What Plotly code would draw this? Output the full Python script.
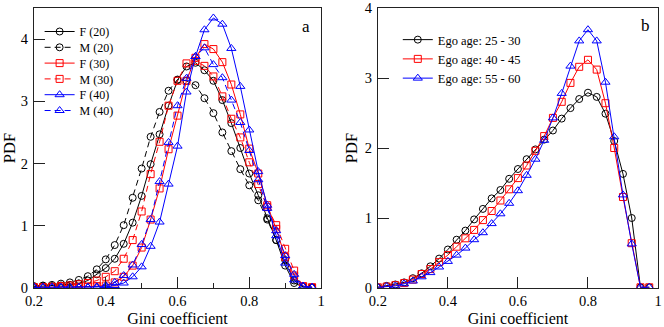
import plotly.graph_objects as go

gini = [0.2, 0.225, 0.25, 0.275, 0.3, 0.325, 0.35, 0.375, 0.4, 0.425, 0.45, 0.475,
        0.5, 0.525, 0.55, 0.575, 0.6, 0.625, 0.65, 0.675, 0.7, 0.725, 0.75, 0.775,
        0.8, 0.825, 0.85, 0.875, 0.9, 0.925, 0.95, 0.975]

# Panel a
f20 = [0.02, 0.03, 0.03, 0.04, 0.05, 0.07, 0.12, 0.22, 0.32, 0.47, 0.71, 1.05,
       1.48, 1.99, 2.47, 2.93, 3.34, 3.56, 3.62, 3.50, 3.33, 3.02, 2.65, 2.25,
       1.84, 1.49, 1.12, 0.77, 0.36, 0.08, 0.02, 0.01]
m20 = [0.03, 0.04, 0.05, 0.07, 0.09, 0.13, 0.19, 0.30, 0.46, 0.69, 1.01, 1.45,
       1.92, 2.43, 2.83, 3.17, 3.35, 3.33, 3.26, 3.05, 2.81, 2.50, 2.20, 1.91,
       1.65, 1.41, 1.10, 0.77, 0.45, 0.12, 0.02, 0.01]
f30 = [0.01, 0.01, 0.01, 0.01, 0.01, 0.02, 0.02, 0.03, 0.04, 0.09, 0.18, 0.36,
       0.65, 1.10, 1.60, 2.23, 2.77, 3.33, 3.70, 3.92, 3.84, 3.63, 3.27, 2.79,
       2.24, 1.84, 1.33, 0.95, 0.50, 0.20, 0.03, 0.01]
m30 = [0.01, 0.01, 0.02, 0.03, 0.04, 0.06, 0.08, 0.12, 0.18, 0.27, 0.47, 0.77,
       1.23, 1.83, 2.35, 2.93, 3.33, 3.61, 3.65, 3.57, 3.40, 3.08, 2.72, 2.42,
       2.02, 1.67, 1.30, 1.01, 0.63, 0.28, 0.02, 0.01]
f40 = [0.01, 0.01, 0.01, 0.01, 0.01, 0.01, 0.01, 0.01, 0.02, 0.04, 0.08, 0.18,
       0.34, 0.67, 1.06, 1.67, 2.28, 3.15, 3.72, 4.15, 4.34, 4.24, 3.85, 3.24,
       2.54, 1.87, 1.33, 0.84, 0.40, 0.13, 0.03, 0.01]
m40 = [0.01, 0.01, 0.01, 0.01, 0.01, 0.01, 0.01, 0.02, 0.04, 0.09, 0.20, 0.37,
       0.70, 1.10, 1.71, 2.34, 2.93, 3.37, 3.72, 3.86, 3.59, 3.38, 3.02, 2.66,
       2.21, 1.74, 1.28, 0.92, 0.52, 0.22, 0.03, 0.01]

# Panel b
age25 = [0.01, 0.03, 0.05, 0.08, 0.14, 0.21, 0.31, 0.42, 0.55, 0.69, 0.82, 0.98,
         1.13, 1.28, 1.40, 1.56, 1.70, 1.84, 1.98, 2.12, 2.25, 2.42, 2.57, 2.70,
         2.79, 2.73, 2.49, 2.10, 1.63, 1.00, 0.01, 0.01]
age40 = [0.01, 0.02, 0.04, 0.07, 0.12, 0.20, 0.27, 0.37, 0.47, 0.59, 0.71, 0.83,
         0.97, 1.10, 1.25, 1.41, 1.57, 1.75, 1.96, 2.17, 2.43, 2.66, 2.93, 3.16,
         3.26, 3.12, 2.64, 2.00, 1.30, 0.64, 0.01, 0.01]
age55 = [0.01, 0.02, 0.03, 0.06, 0.10, 0.16, 0.22, 0.30, 0.38, 0.47, 0.57, 0.69,
         0.79, 0.92, 1.06, 1.21, 1.39, 1.61, 1.84, 2.11, 2.43, 2.78, 3.17, 3.53,
         3.69, 3.53, 2.94, 2.16, 1.33, 0.63, 0.01, 0.01]

x_ticks = [0.2, 0.4, 0.6, 0.8, 1.0]
x_ticktext = ["0.2", "0.4", "0.6", "0.8", "1"]

FONT = "Liberation Serif, Times New Roman, Times, DejaVu Serif, serif"
BLACK = "#000000"
RED = "#ff0000"
BLUE = "#0000ff"

fig = go.Figure()

series_a = [
    ("F (20)", f20, BLACK, "circle-open", "solid", 7),
    ("M (20)", m20, BLACK, "circle-open", "dash", 7),
    ("F (30)", f30, RED, "square-open", "solid", 7),
    ("M (30)", m30, RED, "square-open", "dash", 7),
    ("F (40)", f40, BLUE, "triangle-up-open", "solid", 8),
    ("M (40)", m40, BLUE, "triangle-up-open", "dash", 8),
]
# each panel-a entry gets its own legend so the rows can sit as tightly as in the reference
legend_ids_a = ["legend", "legend3", "legend4", "legend5", "legend6", "legend7"]
for (name, ys, col, sym, dash, sz), lid in zip(series_a, legend_ids_a):
    fig.add_trace(go.Scatter(
        x=gini, y=ys, name=name, mode="lines+markers",
        line=dict(color=col, width=1, dash="6px,4px" if dash == "dash" else "solid"),
        marker=dict(symbol=sym, size=sz, color=col, line=dict(width=1, color=col)),
        xaxis="x", yaxis="y", legend=lid,
    ))

series_b = [
    ("Ego age: 25 - 30", age25, BLACK, "circle-open", 7),
    ("Ego age: 40 - 45", age40, RED, "square-open", 7),
    ("Ego age: 55 - 60", age55, BLUE, "triangle-up-open", 8),
]
for name, ys, col, sym, sz in series_b:
    fig.add_trace(go.Scatter(
        x=gini, y=ys, name=name, mode="lines+markers",
        line=dict(color=col, width=1),
        marker=dict(symbol=sym, size=sz, color=col, line=dict(width=1, color=col)),
        xaxis="x2", yaxis="y2", legend="legend2",
    ))

axis_common = dict(
    showline=True, mirror=True, linecolor="#222", linewidth=1,
    ticks="inside", ticklen=11, tickwidth=1, tickcolor="#222",
    showgrid=False, zeroline=False, automargin=False,
    tickfont=dict(family=FONT, size=14.5, color="black"),
)

PLOT_TOP, PLOT_H = 8, 280
legend_layout = {}
for i, lid in enumerate(legend_ids_a):
    row_center = 31.5 + 15.8 * i
    legend_layout[lid] = dict(
        x=0.009, y=1 - (row_center - PLOT_TOP) / PLOT_H, xanchor="left", yanchor="middle",
        bgcolor="rgba(0,0,0,0)", font=dict(family=FONT, size=12), itemwidth=30,
    )

title_font = dict(family=FONT, size=16)
fig.update_layout(
    width=664, height=327,
    margin=dict(l=34, r=6, t=8, b=39, autoexpand=False),
    paper_bgcolor="white", plot_bgcolor="white",
    showlegend=True,
    font=dict(family=FONT, color="black"),
    xaxis=dict(domain=[0, 0.46], range=[0.2, 1.0], tickvals=x_ticks, ticktext=x_ticktext,
               minor=dict(dtick=0.1, tick0=0.2, ticks="inside", ticklen=5, tickcolor="#222"),
               title=dict(text="Gini coefficient", font=title_font, standoff=4),
               ticklabelstandoff=0, anchor="y", **axis_common),
    yaxis=dict(domain=[0, 1], range=[0, 4.5], tickvals=[0, 1, 2, 3, 4],
               title=dict(text="PDF", font=dict(family=FONT, size=16.5), standoff=2),
               ticklabelstandoff=2, anchor="x", **axis_common),
    xaxis2=dict(domain=[0.551, 1], range=[0.2, 1.0], tickvals=x_ticks, ticktext=x_ticktext,
                title=dict(text="Gini coefficient", font=title_font, standoff=4),
                ticklabelstandoff=0, anchor="y2", **axis_common),
    yaxis2=dict(domain=[0, 1], range=[0, 4.0], tickvals=[0, 1, 2, 3, 4],
                title=dict(text="PDF", font=dict(family=FONT, size=16.5), standoff=2),
                ticklabelstandoff=2, anchor="x2", **axis_common),
    legend2=dict(x=0.583, y=1 - (59 - PLOT_TOP) / PLOT_H, xanchor="left", yanchor="middle",
                 bgcolor="rgba(0,0,0,0)", font=dict(family=FONT, size=12.5),
                 itemwidth=30, tracegroupgap=0),
    annotations=[
        dict(text="a", x=0.967, y=0.975, xref="x domain", yref="y domain",
             showarrow=False, font=dict(family=FONT, size=17)),
        dict(text="b", x=0.978, y=0.978, xref="x2 domain", yref="y2 domain",
             showarrow=False, font=dict(family=FONT, size=17)),
    ],
)
fig.update_layout(**legend_layout)

fig.write_html("out.html", config={"displayModeBar": False},
               post_script="document.body.style.margin='0';")
